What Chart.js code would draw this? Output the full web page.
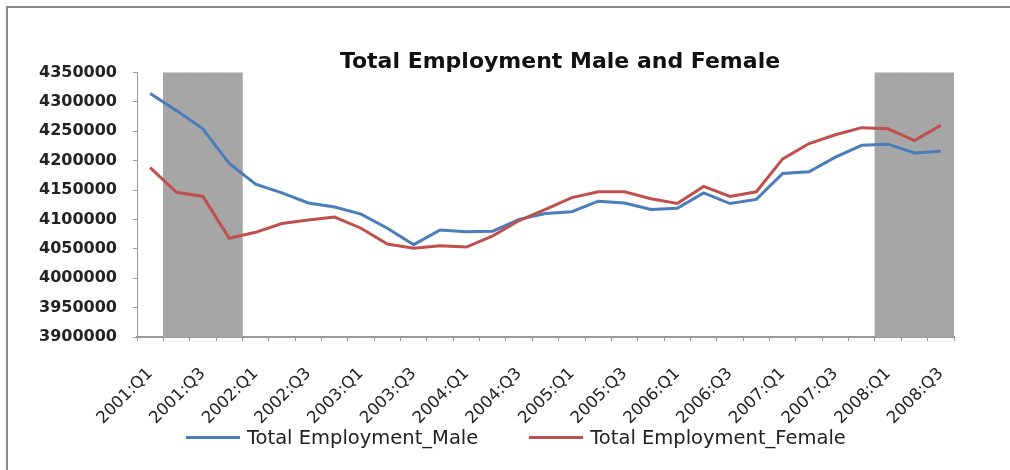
<!DOCTYPE html>
<html>
<head>
<meta charset="utf-8">
<script src="https://cdn.jsdelivr.net/npm/chart.js@4/dist/chart.umd.min.js"></script>
<style>
  html, body { margin: 0; padding: 0; background: #fff; overflow: hidden; }
  body { width: 1010px; height: 470px; position: relative; }
  .rule { position: absolute; background: #8a8a8a; }
  #ruleTop { left: 6px; top: 6px; width: 1004px; height: 2px; }
  #ruleLeft { left: 6px; top: 6px; width: 2px; height: 464px; }
  #wrap { position: absolute; left: 0; top: 0; width: 1120px; height: 470px; }
  #legend {
    position: absolute; left: 186px; top: 426px; display: flex; align-items: center;
    font-family: "DejaVu Sans", sans-serif; font-size: 19.5px; color: #222;
  }
  #legend .item { display: flex; align-items: center; margin-right: 51px; }
  #legend .swatch { width: 54px; height: 3px; margin-right: 7px; }
</style>
</head>
<body>
<div class="rule" id="ruleTop"></div>
<div class="rule" id="ruleLeft"></div>
<div id="wrap"><canvas id="employmentChart"></canvas></div>
<div id="legend"></div>
<script>
'use strict';

// quarters 2001:Q1 .. 2008:Q3
const quarters = [
  '2001:Q1', '2001:Q2', '2001:Q3', '2001:Q4',
  '2002:Q1', '2002:Q2', '2002:Q3', '2002:Q4',
  '2003:Q1', '2003:Q2', '2003:Q3', '2003:Q4',
  '2004:Q1', '2004:Q2', '2004:Q3', '2004:Q4',
  '2005:Q1', '2005:Q2', '2005:Q3', '2005:Q4',
  '2006:Q1', '2006:Q2', '2006:Q3', '2006:Q4',
  '2007:Q1', '2007:Q2', '2007:Q3', '2007:Q4',
  '2008:Q1', '2008:Q2', '2008:Q3'
];

const maleValues = [
  4314000, 4285000, 4254000, 4195000,
  4160000, 4145000, 4128000, 4121000,
  4109000, 4085000, 4057000, 4082000,
  4079000, 4080000, 4100000, 4110000,
  4113000, 4131000, 4128000, 4117000,
  4119000, 4145000, 4127000, 4134000,
  4178000, 4181000, 4206000, 4226000,
  4228000, 4213000, 4216000
];

const femaleValues = [
  4188000, 4146000, 4139000, 4068000,
  4078000, 4093000, 4099000, 4104000,
  4085000, 4058000, 4051000, 4055000,
  4053000, 4072000, 4098000, 4117000,
  4137000, 4147000, 4147000, 4135000,
  4127000, 4156000, 4139000, 4147000,
  4203000, 4229000, 4244000, 4256000,
  4254000, 4234000, 4260000
];

// recession quarters, shaded grey
const shadedQuarters = ['2001:Q2', '2001:Q3', '2001:Q4', '2008:Q1', '2008:Q2', '2008:Q3'];

const yMin = 3900000;
const yMax = 4350000;
const yStep = 50000;

const shadeValues = quarters.map(q => shadedQuarters.includes(q) ? yMax : null);

const chart = new Chart(document.getElementById('employmentChart'), {
  data: {
    labels: quarters,
    datasets: [
      {
        type: 'line',
        label: 'Total Employment_Female',
        data: femaleValues,
        borderColor: '#c0504d',
        backgroundColor: '#c0504d',
        borderWidth: 3,
        pointRadius: 0,
        tension: 0,
        order: 1
      },
      {
        type: 'line',
        label: 'Total Employment_Male',
        data: maleValues,
        borderColor: '#4a7ebb',
        backgroundColor: '#4a7ebb',
        borderWidth: 3,
        pointRadius: 0,
        tension: 0,
        order: 2
      },
      {
        type: 'bar',
        label: 'shade',
        data: shadeValues,
        backgroundColor: '#a6a6a6',
        barPercentage: 1,
        categoryPercentage: 1,
        order: 3
      }
    ]
  },
  options: {
    responsive: true,
    maintainAspectRatio: false,
    animation: false,
    layout: { padding: { left: 10, right: 10, top: 0, bottom: 0 } },
    plugins: {
      legend: { display: false },
      tooltip: { enabled: false },
      title: {
        display: true,
        text: 'Total Employment Male and Female',
        color: '#111',
        font: { family: 'DejaVu Sans', size: 22, weight: 'bold' },
        padding: { top: 49, bottom: -3 }
      }
    },
    scales: {
      x: {
        offset: true,
        grid: { offset: true, drawOnChartArea: false, tickLength: 4, color: '#999' },
        border: { color: '#999', width: 2 },
        ticks: {
          autoSkip: false,
          maxRotation: 45,
          minRotation: 45,
          padding: 23,
          color: '#222',
          font: { family: 'DejaVu Sans', size: 16.5 },
          callback: function (value, index) {
            return index % 2 === 0 ? this.getLabelForValue(value) : '';
          }
        },
        afterFit: scale => { scale.height = 133; }
      },
      y: {
        min: yMin,
        max: yMax,
        grid: { drawOnChartArea: false, tickLength: 4, color: '#999' },
        border: { color: '#999', width: 1 },
        ticks: {
          stepSize: yStep,
          padding: 16,
          color: '#222',
          font: { family: 'DejaVu Sans', size: 16, weight: 'bold' },
          callback: v => String(v)
        },
        afterFit: scale => { scale.width = 127; }
      },
      // empty right-hand space beside the plot
      yRight: {
        position: 'right',
        grid: { display: false },
        border: { display: false },
        ticks: { display: false },
        afterFit: scale => { scale.width = 156; }
      }
    }
  }
});

// legend for the two employment series
const legendBox = document.getElementById('legend');
[chart.data.datasets[1], chart.data.datasets[0]].forEach(ds => {
  const item = document.createElement('div');
  item.className = 'item';
  const swatch = document.createElement('span');
  swatch.className = 'swatch';
  swatch.style.background = ds.borderColor;
  const text = document.createElement('span');
  text.textContent = ds.label;
  item.appendChild(swatch);
  item.appendChild(text);
  legendBox.appendChild(item);
});
</script>
</body>
</html>
